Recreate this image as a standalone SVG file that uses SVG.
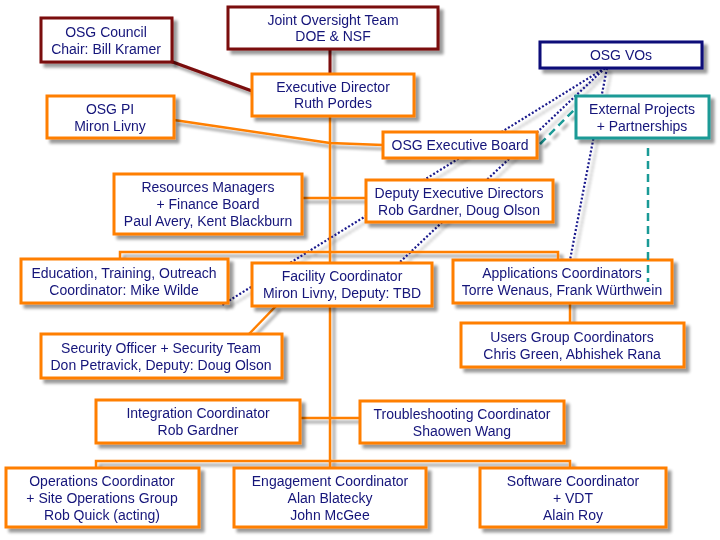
<svg xmlns="http://www.w3.org/2000/svg" width="720" height="540" viewBox="0 0 720 540">
<defs>
<filter id="sh" filterUnits="userSpaceOnUse" x="0" y="0" width="720" height="540">
<feGaussianBlur in="SourceAlpha" stdDeviation="1.6"/>
<feOffset dx="4" dy="4" result="o"/>
<feComponentTransfer><feFuncA type="linear" slope="0.4"/></feComponentTransfer>
<feMerge><feMergeNode/><feMergeNode in="SourceGraphic"/></feMerge>
</filter>
<style>
rect{fill:#fff;stroke-width:3}
.o{stroke:#ff7f00}
.r{stroke:#7a0a0a}
.n{stroke:#0b0b78}
.t{stroke:#1a9a96}
text{font-family:"Liberation Sans",Arial,sans-serif;font-size:14px;fill:#14147a;text-anchor:middle}
.ol{stroke:#ff7f00;stroke-width:2.5;fill:none}
.rl{stroke:#7a0a0a;stroke-width:3;fill:none}
.dl{stroke:#1a1a8c;stroke-width:2.2;stroke-dasharray:2 2;fill:none}
.tl{stroke:#1a9a96;stroke-width:2.5;stroke-dasharray:8 5;fill:none}
</style>
</defs>
<rect x="0" y="0" width="720" height="540" style="fill:#fff;stroke:none"/>
<g id="connectors" filter="url(#sh)">
<line class="dl" x1="605" y1="68" x2="222" y2="305"/>
<line class="dl" x1="605" y1="68" x2="400" y2="262"/>
<line class="dl" x1="607" y1="68" x2="570" y2="260"/>
<line class="tl" x1="540" y1="144" x2="576" y2="108"/>
<line class="rl" x1="330" y1="49" x2="330" y2="74"/>
<line class="rl" x1="170" y1="61" x2="252" y2="91"/>
<polyline class="ol" points="174,120 330,143 383,145"/>
<line class="ol" x1="330" y1="116" x2="330" y2="461"/>
<line class="ol" x1="302" y1="198" x2="366" y2="198"/>
<polyline class="ol" points="120,259 120,252 558,252 558,260"/>
<line class="ol" x1="276" y1="306" x2="249" y2="334"/>
<line class="ol" x1="570" y1="303" x2="570" y2="323"/>
<line class="ol" x1="300" y1="418" x2="360" y2="418"/>
<polyline class="ol" points="96,468 96,461 570,461 570,468"/>
<line class="ol" x1="330" y1="461" x2="330" y2="468"/>
</g>
<g filter="url(#sh)">
<g id="council"><rect class="r" x="41" y="18" width="131" height="44"/><text x="106" y="37">OSG Council</text><text x="106" y="54">Chair: Bill  Kramer</text></g>
<g id="joint"><rect class="r" x="228" y="7" width="210" height="42"/><text x="333" y="25">Joint Oversight Team</text><text x="333" y="41">DOE &amp; NSF</text></g>
<g id="exec"><rect class="o" x="252" y="74" width="162" height="42"/><text x="333" y="92">Executive Director</text><text x="333" y="108">Ruth Pordes</text></g>
<g id="pi"><rect class="o" x="47" y="96" width="127" height="42"/><text x="110" y="114">OSG PI</text><text x="110" y="131">Miron Livny</text></g>
<g id="board"><rect class="o" x="383" y="132" width="154" height="26"/><text x="460" y="150">OSG Executive Board</text></g>
<g id="vos"><rect class="n" x="540" y="42" width="162" height="26"/><text x="621" y="60">OSG VOs</text></g>
<g id="external"><rect class="t" x="576" y="96" width="133" height="42"/><text x="642" y="114">External Projects</text><text x="642" y="131">+ Partnerships</text></g>
<g id="resources"><rect class="o" x="114" y="174" width="188" height="60"/><text x="208" y="192">Resources Managers</text><text x="208" y="209">+ Finance Board</text><text x="208" y="226">Paul Avery, Kent Blackburn</text></g>
<g id="deputy"><rect class="o" x="366" y="180" width="187" height="42"/><text x="459" y="198">Deputy Executive Directors</text><text x="459" y="215">Rob Gardner, Doug Olson</text></g>
<g id="education"><rect class="o" x="21" y="259" width="207" height="44"/><text x="124" y="278">Education, Training, Outreach</text><text x="124" y="295">Coordinator: Mike Wilde</text></g>
<g id="facility"><rect class="o" x="252" y="263" width="180" height="43"/><text x="342" y="281">Facility Coordinator</text><text x="342" y="298">Miron Livny, Deputy: TBD</text></g>
<g id="applications"><rect class="o" x="453" y="260" width="219" height="43"/><text x="562" y="278">Applications Coordinators</text><text x="562" y="295">Torre Wenaus, Frank Würthwein</text></g>
<g id="users"><rect class="o" x="461" y="323" width="223" height="44"/><text x="572" y="342">Users Group Coordinators</text><text x="572" y="359">Chris Green, Abhishek Rana</text></g>
<g id="security"><rect class="o" x="41" y="334" width="241" height="44"/><text x="161" y="353">Security Officer + Security Team</text><text x="161" y="370">Don Petravick, Deputy: Doug Olson</text></g>
<g id="integration"><rect class="o" x="96" y="400" width="204" height="43"/><text x="198" y="418">Integration Coordinator</text><text x="198" y="435">Rob Gardner</text></g>
<g id="troubleshooting"><rect class="o" x="360" y="401" width="204" height="42"/><text x="462" y="419">Troubleshooting Coordinator</text><text x="462" y="436">Shaowen Wang</text></g>
<g id="operations"><rect class="o" x="6" y="468" width="193" height="59"/><text x="102" y="486">Operations Coordinator</text><text x="102" y="503">+ Site Operations Group</text><text x="102" y="520">Rob Quick (acting)</text></g>
<g id="engagement"><rect class="o" x="234" y="468" width="192" height="59"/><text x="330" y="486">Engagement Coordinator</text><text x="330" y="503">Alan Blatecky</text><text x="330" y="520">John McGee</text></g>
<g id="software"><rect class="o" x="480" y="468" width="186" height="59"/><text x="573" y="486">Software Coordinator</text><text x="573" y="503">+ VDT</text><text x="573" y="520">Alain Roy</text></g>
</g>
<g id="connectors-over">
<line class="tl" x1="648" y1="148" x2="648" y2="282"/>
</g>
</svg>
